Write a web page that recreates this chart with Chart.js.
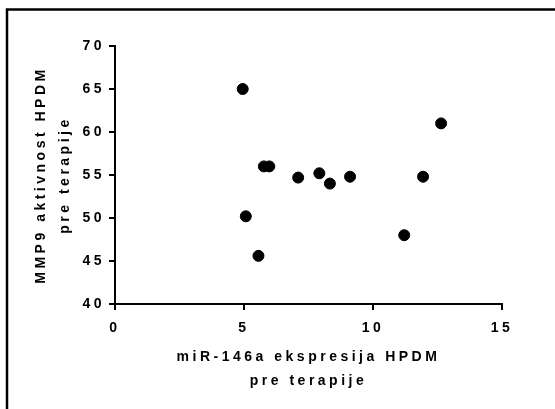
<!DOCTYPE html>
<html>
<head>
<meta charset="utf-8">
<script src="https://cdn.jsdelivr.net/npm/chart.js@4.4.0/dist/chart.umd.min.js"></script>
<style>
  html, body { margin: 0; padding: 0; background: #fff; }
  #wrap { width: 555px; height: 409px; position: relative; }
</style>
</head>
<body>
<div id="wrap"><canvas id="scatterChart"></canvas></div>
<script>
// miR-146a expression vs MMP9 activity (HPDM, before therapy)
const mirValues = [4.95, 5.07, 5.56, 5.77, 5.98, 7.10, 7.92, 8.33, 9.11, 11.21, 11.94, 12.64];
const mmpValues = [65.0, 50.2, 45.6, 56.0, 56.0, 54.7, 55.2, 54.0, 54.8, 48.0, 54.8, 61.0];
const xTicks = [0, 5, 10, 15];
const yTicks = [40, 45, 50, 55, 60, 65, 70];

const points = mirValues.map((x, i) => ({x: x, y: mmpValues[i]}));

// letter spaced text + outer frame
const spacing = {
    id: 'spacing',
    beforeLayout(chart) { chart.ctx.letterSpacing = '3.5px'; },
    beforeDraw(chart) {
        const c = chart.ctx;
        c.letterSpacing = '3.5px';
        c.save();
        c.strokeStyle = '#000';
        c.lineWidth = 2.5;
        c.strokeRect(7, 9.5, 600, 500);
        c.restore();
    }
};

const tickFont = {family: 'Liberation Sans, Arial, sans-serif', size: 14, weight: 'bold'};
const titleFont = {family: 'Liberation Sans, Arial, sans-serif', size: 14, weight: 'bold', lineHeight: '24px'};

const ctx = document.getElementById('scatterChart').getContext('2d');
const scatterChart = new Chart(ctx, {
    type: 'scatter',
    data: {
        datasets: [{
            label: 'HPDM',
            data: points,
            backgroundColor: '#000',
            borderColor: '#000',
            pointRadius: 5.5,
            pointHoverRadius: 5.5
        }]
    },
    options: {
        responsive: true,
        maintainAspectRatio: false,
        animation: false,
        events: [],
        layout: {
            padding: {left: 0, top: 46, right: 53, bottom: 0}
        },
        plugins: {
            legend: {display: false},
            tooltip: {enabled: false}
        },
        scales: {
            x: {
                type: 'linear',
                min: 0,
                max: 15,
                afterBuildTicks: (s) => { s.ticks = xTicks.map(v => ({value: v})); },
                afterFit: (s) => { s.height = 105; },
                border: {color: '#000', width: 2},
                grid: {drawOnChartArea: false, drawTicks: true, tickLength: 6, color: '#000', lineWidth: 2},
                ticks: {color: '#000', font: tickFont, padding: 10, maxRotation: 0},
                title: {
                    display: true,
                    text: ['miR-146a ekspresija HPDM', 'pre terapije'],
                    color: '#000',
                    font: titleFont,
                    padding: {top: 0, bottom: 16}
                }
            },
            y: {
                type: 'linear',
                min: 40,
                max: 70,
                afterBuildTicks: (s) => { s.ticks = yTicks.map(v => ({value: v})); },
                afterFit: (s) => { s.width = 115; },
                border: {color: '#000', width: 2},
                grid: {drawOnChartArea: false, drawTicks: true, tickLength: 6, color: '#000', lineWidth: 2},
                ticks: {color: '#000', font: tickFont, padding: 4},
                title: {
                    display: true,
                    text: ['MMP9 aktivnost HPDM', 'pre terapije'],
                    color: '#000',
                    font: titleFont,
                    padding: {top: 29, bottom: 0}
                }
            }
        }
    },
    plugins: [spacing]
});
</script>
</body>
</html>
